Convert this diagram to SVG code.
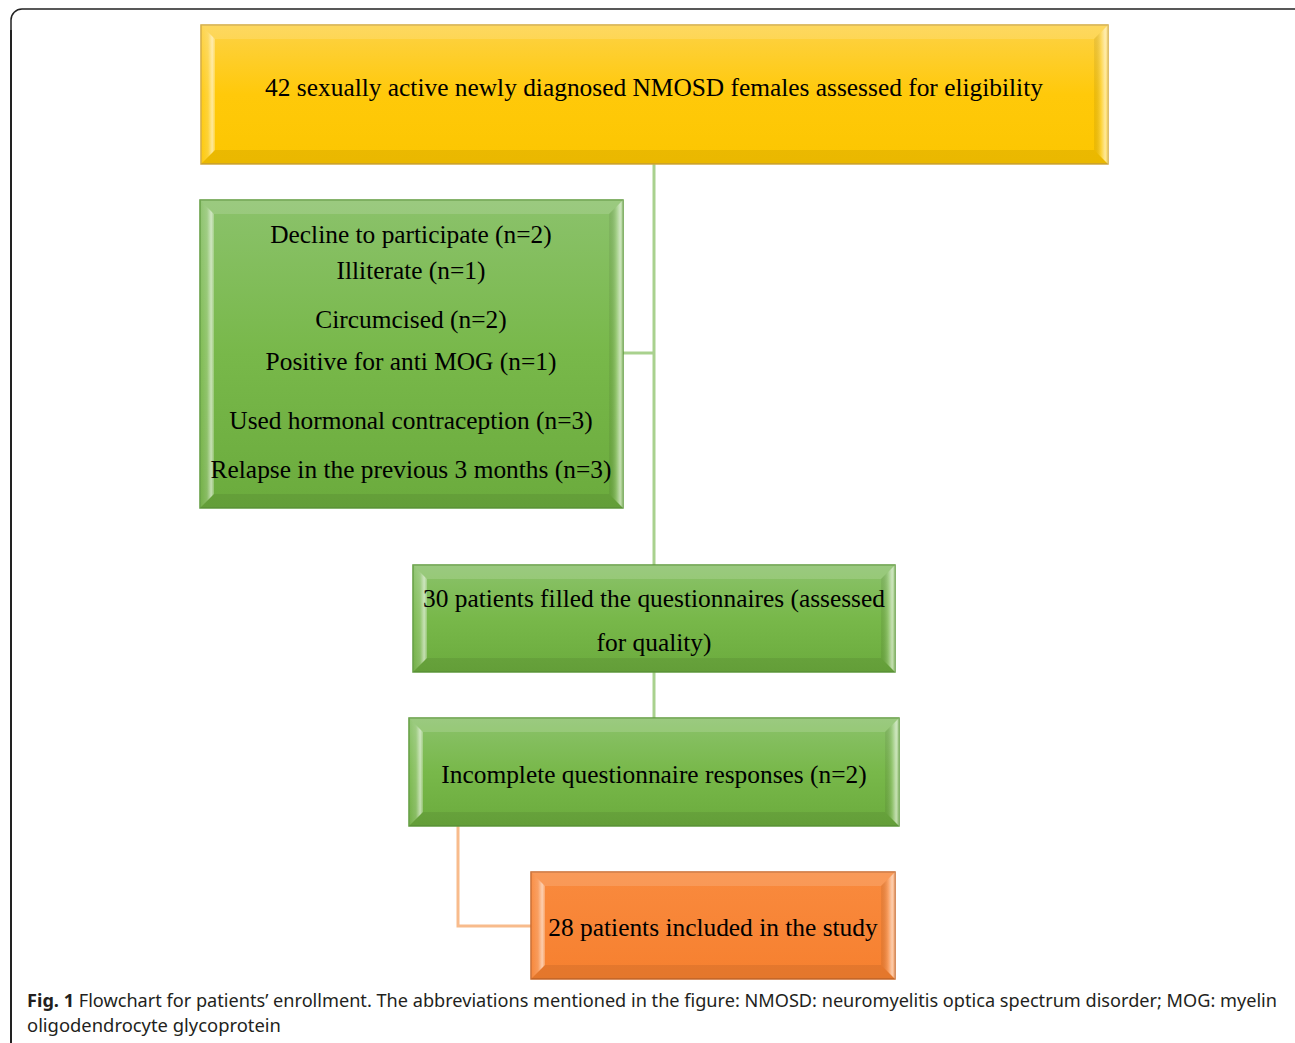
<svg xmlns="http://www.w3.org/2000/svg" width="1295" height="1043" viewBox="0 0 1295 1043">
<style>
.t{font-family:"Liberation Serif","Times New Roman",serif;font-size:25.4px;fill:#000;text-anchor:middle}
.cap{font-family:"Noto Sans","Open Sans",sans-serif;font-size:18.4px;fill:#231f20}
.bt{fill:#fff;fill-opacity:0.14}
.bb{fill:#000;fill-opacity:0.07}
.bl{fill:url(#gL)}
.br{fill:url(#gR)}
.conG{stroke:#a9d18e;stroke-width:3;fill:none}
.conO{stroke:#f8bb8c;stroke-width:3;fill:none}
</style>
<defs>
<linearGradient id="gY" x1="0" y1="0" x2="0" y2="1">
<stop offset="0" stop-color="#fdd246"/><stop offset="0.5" stop-color="#ffc90a"/><stop offset="1" stop-color="#fcc600"/>
</linearGradient>
<linearGradient id="gG" x1="0" y1="0" x2="0" y2="1">
<stop offset="0" stop-color="#8bc26b"/><stop offset="0.5" stop-color="#78b84a"/><stop offset="1" stop-color="#6bab3d"/>
</linearGradient>
<linearGradient id="gO" x1="0" y1="0" x2="0" y2="1">
<stop offset="0" stop-color="#f98a3e"/><stop offset="1" stop-color="#f6802f"/>
</linearGradient>
<linearGradient id="gL" x1="0" y1="0" x2="1" y2="0">
<stop offset="0" stop-color="#fff" stop-opacity="0.05"/><stop offset="0.5" stop-color="#fff" stop-opacity="0.2"/><stop offset="0.8" stop-color="#fff" stop-opacity="0.6"/><stop offset="1" stop-color="#fff" stop-opacity="0.25"/>
</linearGradient>
<linearGradient id="gR" x1="0" y1="0" x2="1" y2="0">
<stop offset="0" stop-color="#000" stop-opacity="0.06"/><stop offset="0.5" stop-color="#fff" stop-opacity="0.2"/><stop offset="0.8" stop-color="#fff" stop-opacity="0.6"/><stop offset="1" stop-color="#fff" stop-opacity="0.25"/>
</linearGradient>
</defs>
<rect x="0" y="0" width="1295" height="1043" fill="#fff"/>
<rect x="11" y="9" width="1300" height="1100" rx="11" fill="none" stroke="#222" stroke-width="1.5"/>
<line x1="11" y1="30" x2="11" y2="1043" stroke="#111" stroke-width="1.5"/>

<g id="connectors">
<path class="conG" d="M654 164 V565"/>
<path class="conG" d="M623 353 H654"/>
<path class="conG" d="M654 672 V718"/>
<path class="conO" d="M458 826 V926 H531"/>
</g>

<g id="n1">
<rect x="201" y="25" width="907" height="139" fill="url(#gY)" stroke="#d2a93c" stroke-width="1.5"/>
<polygon class="bt" points="201,25 1108,25 1094,39 215,39"/>
<polygon class="bb" points="201,164 1108,164 1094,150 215,150"/>
<polygon class="bl" points="201,25 215,39 215,150 201,164"/>
<polygon class="br" points="1108,25 1094,39 1094,150 1108,164"/>
<text class="t" x="654" y="96">42 sexually active newly diagnosed NMOSD females assessed for eligibility</text>
</g>

<g id="n2">
<rect x="200" y="200" width="423" height="308" fill="url(#gG)" stroke="#5f9a3c" stroke-width="1.5"/>
<polygon class="bt" points="200,200 623,200 609,214 214,214"/>
<polygon class="bb" points="200,508 623,508 609,494 214,494"/>
<polygon class="bl" points="200,200 214,214 214,494 200,508"/>
<polygon class="br" points="623,200 609,214 609,494 623,508"/>
<text class="t" x="411" y="243">Decline to participate (n=2)</text>
<text class="t" x="411" y="279">Illiterate (n=1)</text>
<text class="t" x="411" y="328">Circumcised (n=2)</text>
<text class="t" x="411" y="370">Positive for anti MOG (n=1)</text>
<text class="t" x="411" y="429">Used hormonal contraception (n=3)</text>
<text class="t" x="411" y="478">Relapse in the previous 3 months (n=3)</text>
</g>

<g id="n3">
<rect x="413" y="565" width="482" height="107" fill="url(#gG)" stroke="#5f9a3c" stroke-width="1.5"/>
<polygon class="bt" points="413,565 895,565 881,579 427,579"/>
<polygon class="bb" points="413,672 895,672 881,658 427,658"/>
<polygon class="bl" points="413,565 427,579 427,658 413,672"/>
<polygon class="br" points="895,565 881,579 881,658 895,672"/>
<text class="t" x="654" y="607">30 patients filled the questionnaires (assessed</text>
<text class="t" x="654" y="651">for quality)</text>
</g>

<g id="n4">
<rect x="409" y="718" width="490" height="108" fill="url(#gG)" stroke="#5f9a3c" stroke-width="1.5"/>
<polygon class="bt" points="409,718 899,718 885,732 423,732"/>
<polygon class="bb" points="409,826 899,826 885,812 423,812"/>
<polygon class="bl" points="409,718 423,732 423,812 409,826"/>
<polygon class="br" points="899,718 885,732 885,812 899,826"/>
<text class="t" x="654" y="783">Incomplete questionnaire responses (n=2)</text>
</g>

<g id="n5">
<rect x="531" y="872" width="364" height="107" fill="url(#gO)" stroke="#c96a2c" stroke-width="1.5"/>
<polygon class="bt" points="531,872 895,872 881,886 545,886"/>
<polygon class="bb" points="531,979 895,979 881,965 545,965"/>
<polygon class="bl" points="531,872 545,886 545,965 531,979"/>
<polygon class="br" points="895,872 881,886 881,965 895,979"/>
<text class="t" x="713" y="936">28 patients included in the study</text>
</g>

<g id="caption">
<text class="cap" x="27" y="1007" textLength="1250" lengthAdjust="spacingAndGlyphs"><tspan font-weight="bold">Fig. 1</tspan>  Flowchart for patients’ enrollment. The abbreviations mentioned in the figure: NMOSD: neuromyelitis optica spectrum disorder; MOG: myelin</text>
<text class="cap" x="27" y="1032">oligodendrocyte glycoprotein</text>
</g>
</svg>
